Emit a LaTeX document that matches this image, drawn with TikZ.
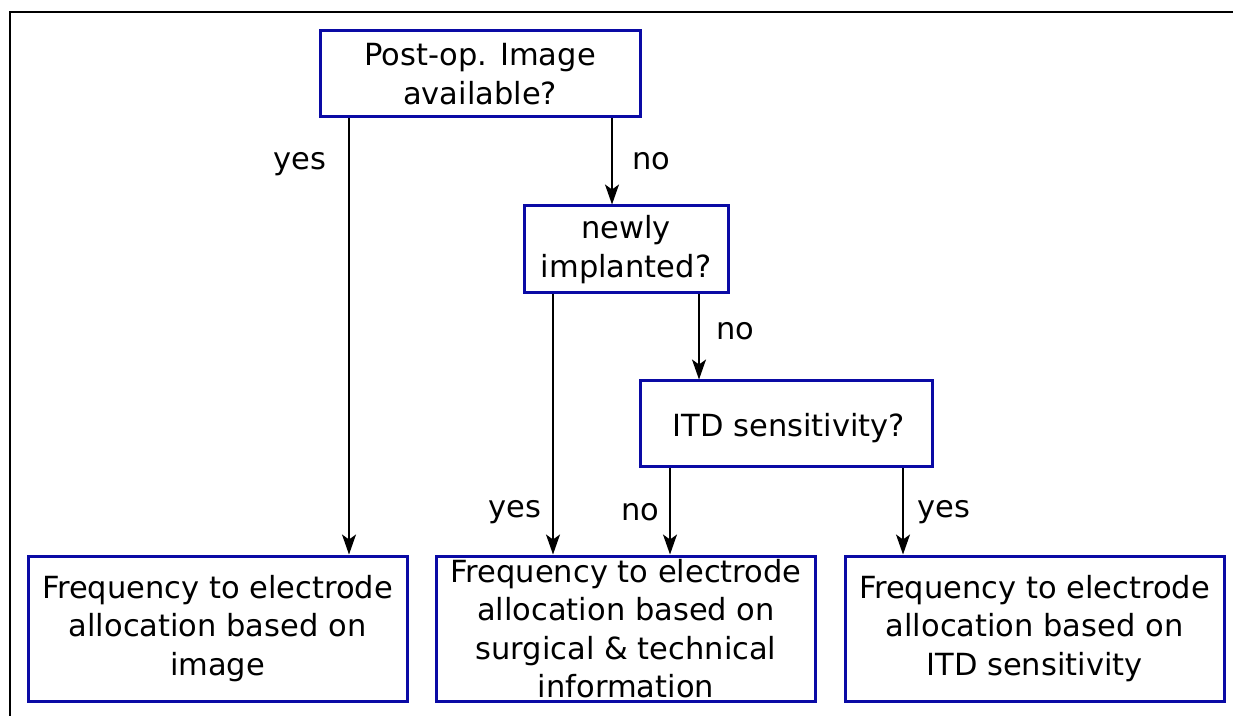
\documentclass[tikz,border=0pt]{standalone}
\usepackage{fontspec}
\setmainfont{DejaVu Sans}
\usetikzlibrary{arrows.meta}
\definecolor{boxblue}{RGB}{10,10,165}
\begin{document}
\begin{tikzpicture}[x=1pt,y=1pt,
  box/.style={draw=boxblue, line width=3pt, inner sep=0pt, align=center,
    font=\fontsize{30.5}{38.5}\selectfont},
  arr/.style={line width=1.5pt, -{Stealth[length=20pt,width=14pt,inset=5pt]}},
  lbl/.style={anchor=base, inner sep=0pt, font=\fontsize{30.5}{38.5}\selectfont}]
\useasboundingbox (0,0) rectangle (1233,715);
\draw[line width=2.6pt] (10,-5) -- (10,703) -- (1240,703);
\node[box, minimum width=320pt, minimum height=86pt] (top) at (480,641) {Post-op. Image\\available?};
\node[box, minimum width=204pt, minimum height=87pt] (new) at (626,465.5) {newly\\implanted?};
\node[box, minimum width=292pt, minimum height=86pt] (itd) at (786,291) {};
\node[inner sep=0pt, font=\fontsize{30.5}{38.5}\selectfont] (itdt) at (789,287) {ITD sensitivity?};
\node[box, minimum width=379pt, minimum height=145pt] (bl) at (217.5,86.5) {Frequency to electrode\\allocation based on\\image};
\node[box, minimum width=379pt, minimum height=145pt] (bm) at (626,86.5) {Frequency to electrode\\allocation based on\\surgical \& technical\\information};
\node[box, minimum width=379pt, minimum height=145pt] (br) at (1034.5,86.5) {Frequency to electrode\\allocation based on\\ITD sensitivity};
\draw[arr] ([xshift=-131pt]top.south) -- ([xshift=-131pt]top.south |- bl.north);
\draw[arr] ([xshift=132pt]top.south) -- ([xshift=132pt]top.south |- new.north);
\draw[arr] ([xshift=-73pt]new.south) -- ([xshift=-73pt]new.south |- bm.north);
\draw[arr] ([xshift=73pt]new.south) -- ([xshift=73pt]new.south |- itd.north);
\draw[arr] ([xshift=-116pt]itd.south) -- ([xshift=-116pt]itd.south |- bm.north);
\draw[arr] ([xshift=117pt]itd.south) -- ([xshift=117pt]itd.south |- br.north);
\node[lbl] (l1) at (300,545) {yes};
\node[lbl] (l2) at (651,545) {no};
\node[lbl] (l3) at (735,375) {no};
\node[lbl] (l4) at (515,197) {yes};
\node[lbl] (l5) at (640,195) {no};
\node[lbl] (l6) at (944,197) {yes};
\end{tikzpicture}
\end{document}
